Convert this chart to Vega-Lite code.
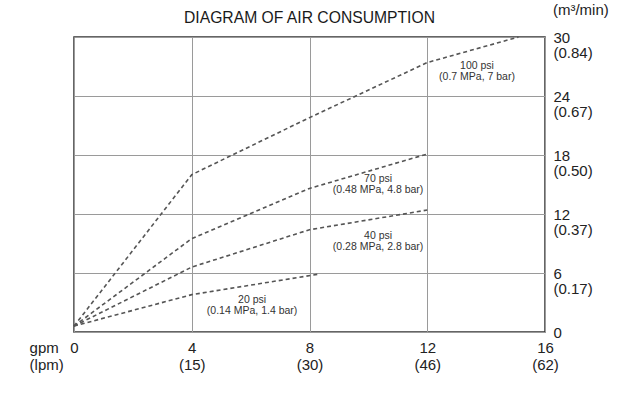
{
  "$schema": "https://vega.github.io/schema/vega-lite/v6.json",
  "width": 471,
  "height": 295,
  "autosize": "none",
  "padding": {"left": 74, "top": 37, "right": 73, "bottom": 76},
  "background": "white",
  "config": {
    "font": "Liberation Sans",
    "view": {"stroke": "#333", "strokeWidth": 1.5}
  },
  "title": {
    "text": "DIAGRAM OF AIR CONSUMPTION",
    "fontSize": 15.7,
    "fontWeight": "normal",
    "color": "#1a1a1a",
    "offset": -24,
    "frame": "group",
    "anchor": "middle"
  },
  "datasets": {
    "curves": [
      {"psi": "100", "gpm": 0, "flow": 0.6},
      {"psi": "100", "gpm": 4, "flow": 16.0},
      {"psi": "100", "gpm": 8, "flow": 21.8},
      {"psi": "100", "gpm": 12, "flow": 27.4},
      {"psi": "100", "gpm": 15.1, "flow": 30},
      {"psi": "70", "gpm": 0, "flow": 0.6},
      {"psi": "70", "gpm": 4, "flow": 9.5},
      {"psi": "70", "gpm": 8, "flow": 14.6},
      {"psi": "70", "gpm": 12, "flow": 18.1},
      {"psi": "40", "gpm": 0, "flow": 0.6},
      {"psi": "40", "gpm": 4, "flow": 6.6},
      {"psi": "40", "gpm": 8, "flow": 10.4},
      {"psi": "40", "gpm": 12, "flow": 12.4},
      {"psi": "20", "gpm": 0, "flow": 0.6},
      {"psi": "20", "gpm": 4, "flow": 3.8},
      {"psi": "20", "gpm": 8.35, "flow": 5.9}
    ],
    "notes": [
      {"gpm": 13.69, "flow": 27.1, "label": "100 psi\n(0.7 MPa, 7 bar)"},
      {"gpm": 10.33, "flow": 15.6, "label": "70 psi\n(0.48 MPa, 4.8 bar)"},
      {"gpm": 10.33, "flow": 9.8, "label": "40 psi\n(0.28 MPa, 2.8 bar)"},
      {"gpm": 6.05, "flow": 3.3, "label": "20 psi\n(0.14 MPa, 1.4 bar)"}
    ],
    "unitnote": [
      {"gpm": -1.51, "flow": -1.63, "label": "gpm\n(lpm)"}
    ],
    "ynote": [
      {"gpm": 16.27, "flow": 32.75, "label": "(m³/min)"}
    ]
  },
  "encoding": {
    "x": {
      "field": "gpm",
      "type": "quantitative",
      "scale": {"domain": [0, 16], "nice": false, "zero": false},
      "axis": {
        "title": null,
        "values": [0, 4, 8, 12, 16],
        "labelExpr": "datum.value == 0 ? '0' : datum.value == 4 ? ['4', '(15)'] : datum.value == 8 ? ['8', '(30)'] : datum.value == 12 ? ['12', '(46)'] : ['16', '(62)']",
        "labelFontSize": 15,
        "labelColor": "#222",
        "labelLineHeight": 17,
        "labelPadding": 8,
        "labelFlush": false,
        "labelOverlap": false,
        "labelBaseline": "top",
        "grid": true,
        "gridColor": "#9a9a9a",
        "gridWidth": 1,
        "domain": false,
        "ticks": false
      }
    },
    "y": {
      "field": "flow",
      "type": "quantitative",
      "scale": {"domain": [0, 30], "nice": false, "zero": false},
      "axis": {
        "orient": "right",
        "title": null,
        "values": [0, 6, 12, 18, 24, 30],
        "labelExpr": "datum.value == 0 ? '0' : datum.value == 6 ? ['6', '(0.17)'] : datum.value == 12 ? ['12', '(0.37)'] : datum.value == 18 ? ['18', '(0.50)'] : datum.value == 24 ? ['24', '(0.67)'] : ['30', '(0.84)']",
        "labelFontSize": 15,
        "labelColor": "#222",
        "labelLineHeight": 15,
        "labelPadding": 8,
        "labelAlign": "left",
        "labelBaseline": "middle",
        "labelFlush": false,
        "labelOverlap": false,
        "grid": true,
        "gridColor": "#9a9a9a",
        "gridWidth": 1,
        "domain": false,
        "ticks": false
      }
    }
  },
  "layer": [
    {
      "data": {"name": "curves"},
      "mark": {"type": "line", "color": "#555", "strokeWidth": 1.6, "strokeDash": [4, 3], "clip": false},
      "encoding": {"detail": {"field": "psi"}}
    },
    {
      "data": {"name": "notes"},
      "mark": {"type": "text", "fontSize": 10.5, "color": "#333", "lineBreak": "\n", "lineHeight": 11, "align": "center", "baseline": "middle"},
      "encoding": {"text": {"field": "label"}}
    },
    {
      "data": {"name": "unitnote"},
      "mark": {"type": "text", "fontSize": 15, "color": "#222", "lineBreak": "\n", "lineHeight": 17, "align": "left", "baseline": "middle", "clip": false},
      "encoding": {"text": {"field": "label"}}
    },
    {
      "data": {"name": "ynote"},
      "mark": {"type": "text", "fontSize": 15, "color": "#222", "align": "left", "baseline": "middle", "clip": false},
      "encoding": {"text": {"field": "label"}}
    }
  ]
}
